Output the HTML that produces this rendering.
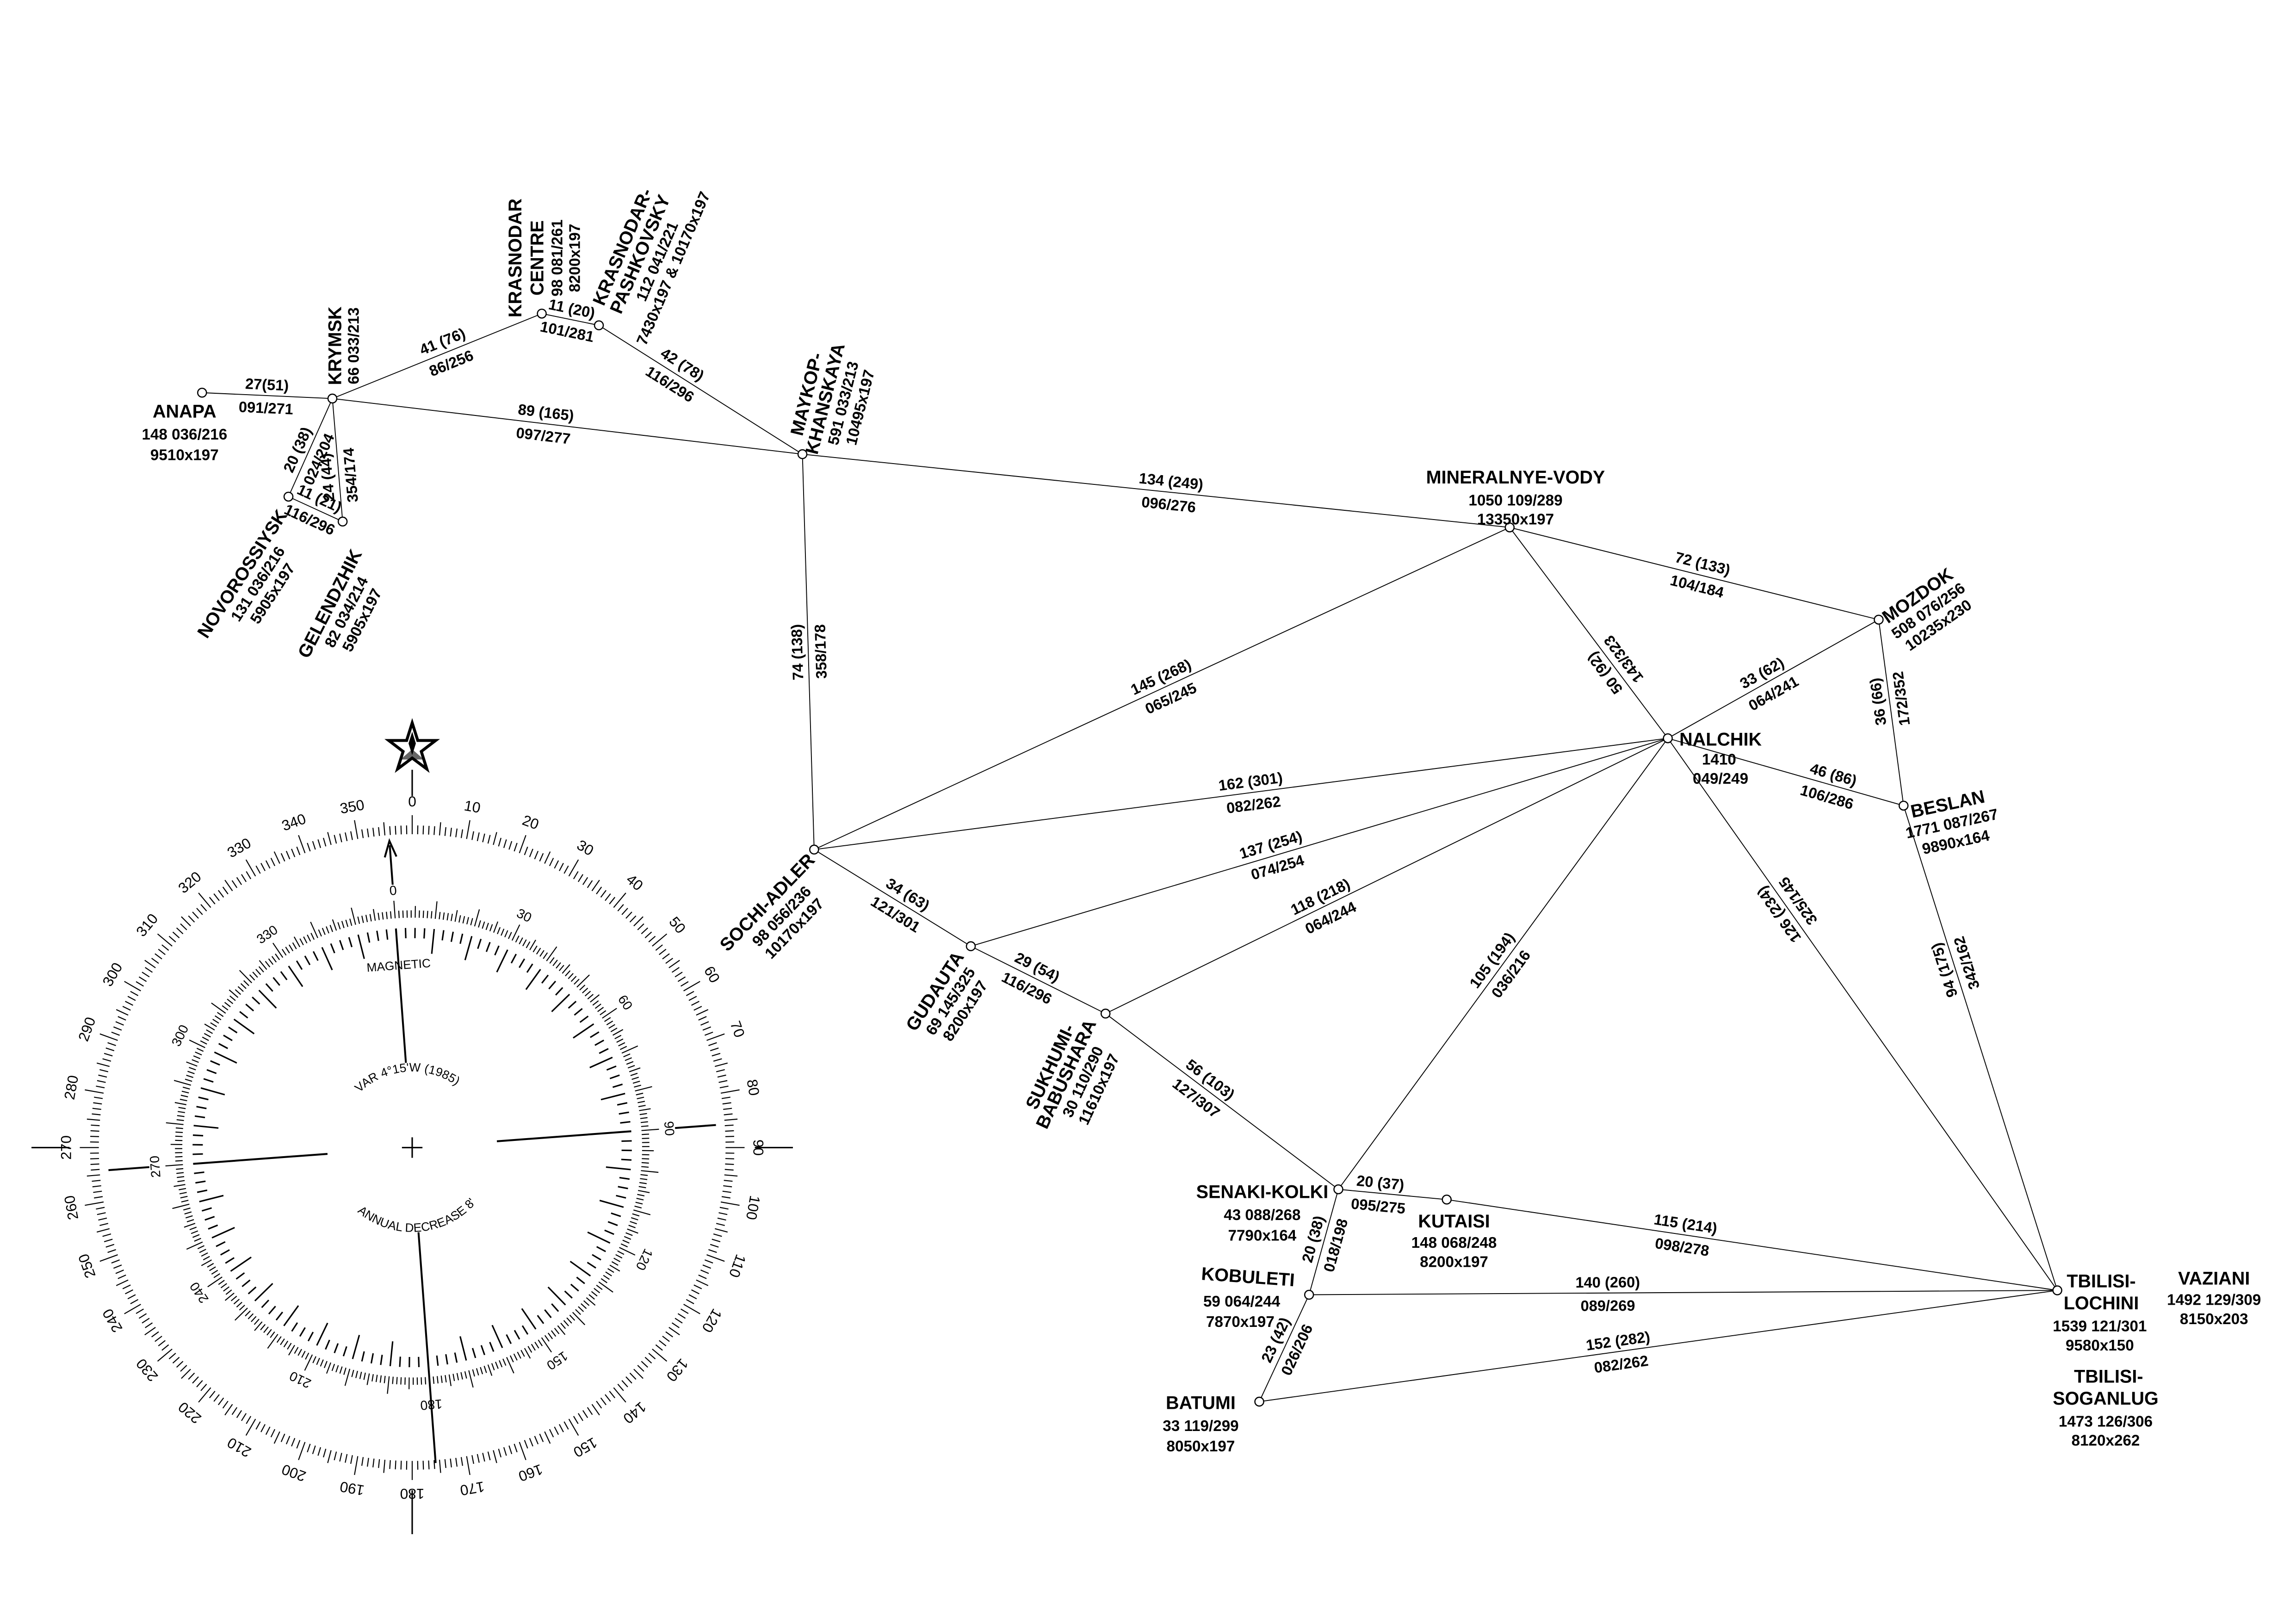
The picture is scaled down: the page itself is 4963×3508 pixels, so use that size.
<!DOCTYPE html>
<html><head><meta charset="utf-8"><style>
html,body{margin:0;padding:0;background:#fff}
svg{display:block}
text{font-family:"Liberation Sans",Arial,sans-serif;fill:#000}
.n{font-size:12.5px;font-weight:bold}
.d{font-size:10.5px;font-weight:bold}
.e{font-size:10.3px;font-weight:bold;text-anchor:middle}
.c{font-size:10px;text-anchor:middle}
.c2{font-size:9px;text-anchor:middle}
.ci{font-size:8.3px;text-anchor:middle}
</style></head><body>
<svg width="4963" height="3508" viewBox="0 0 1568 1108" xmlns="http://www.w3.org/2000/svg">
<rect width="1568" height="1108" fill="#fff"/>
<g stroke="#000" stroke-width="0.6" fill="none">
<line x1="138" y1="268" x2="227" y2="272"/>
<line x1="227" y1="272" x2="370" y2="214"/>
<line x1="370" y1="214" x2="409" y2="222"/>
<line x1="409" y1="222" x2="548" y2="310"/>
<line x1="227" y1="272" x2="548" y2="310"/>
<line x1="227" y1="272" x2="197" y2="339"/>
<line x1="227" y1="272" x2="234" y2="356"/>
<line x1="197" y1="339" x2="234" y2="356"/>
<line x1="548" y1="310" x2="556" y2="580"/>
<line x1="548" y1="310" x2="1031" y2="360"/>
<line x1="1031" y1="360" x2="1283" y2="423"/>
<line x1="1031" y1="360" x2="1139" y2="504"/>
<line x1="1031" y1="360" x2="556" y2="580"/>
<line x1="1283" y1="423" x2="1139" y2="504"/>
<line x1="1283" y1="423" x2="1300" y2="550"/>
<line x1="1139" y1="504" x2="1300" y2="550"/>
<line x1="1139" y1="504" x2="556" y2="580"/>
<line x1="1139" y1="504" x2="663" y2="646"/>
<line x1="1139" y1="504" x2="755" y2="692"/>
<line x1="1139" y1="504" x2="914" y2="812"/>
<line x1="1139" y1="504" x2="1405" y2="881"/>
<line x1="1300" y1="550" x2="1405" y2="881"/>
<line x1="556" y1="580" x2="663" y2="646"/>
<line x1="663" y1="646" x2="755" y2="692"/>
<line x1="755" y1="692" x2="914" y2="812"/>
<line x1="914" y1="812" x2="988" y2="819"/>
<line x1="988" y1="819" x2="1405" y2="881"/>
<line x1="914" y1="812" x2="894" y2="884"/>
<line x1="894" y1="884" x2="1405" y2="881"/>
<line x1="894" y1="884" x2="860" y2="957"/>
<line x1="860" y1="957" x2="1405" y2="881"/>
</g>
<g stroke="#000" stroke-width="0.8" fill="#fff">
<circle cx="138" cy="268" r="3"/><circle cx="227" cy="272" r="3"/><circle cx="197" cy="339" r="3"/><circle cx="234" cy="356" r="3"/>
<circle cx="370" cy="214" r="3"/><circle cx="409" cy="222" r="3"/><circle cx="548" cy="310" r="3"/><circle cx="1031" cy="360" r="3"/>
<circle cx="1283" cy="423" r="3"/><circle cx="1139" cy="504" r="3"/><circle cx="1300" cy="550" r="3"/><circle cx="556" cy="580" r="3"/>
<circle cx="663" cy="646" r="3"/><circle cx="755" cy="692" r="3"/><circle cx="914" cy="812" r="3"/><circle cx="988" cy="819" r="3"/>
<circle cx="894" cy="884" r="3"/><circle cx="860" cy="957" r="3"/><circle cx="1405" cy="881" r="3"/>
</g>

<g transform="translate(182,270) rotate(2.6)"><text class="e" y="-4">27(51)</text><text class="e" y="12">091/271</text></g>
<g transform="translate(305,240) rotate(-22.1)"><text class="e" y="-4">41 (76)</text><text class="e" y="12">86/256</text></g>
<g transform="translate(389,218) rotate(11.6)"><text class="e" y="-4">11 (20)</text><text class="e" y="12">101/281</text></g>
<g transform="translate(462,255) rotate(32.3)"><text class="e" y="-4">42 (78)</text><text class="e" y="12">116/296</text></g>
<g transform="translate(372,289) rotate(6.75)"><text class="e" y="-4">89 (165)</text><text class="e" y="12">097/277</text></g>
<g transform="translate(210,310) rotate(-66)"><text class="e" y="-4">20 (38)</text><text class="e" y="12">024/204</text></g>
<g transform="translate(231,325) rotate(-94.8)"><text class="e" y="-4">24 (44)</text><text class="e" y="12">354/174</text></g>
<g transform="translate(215,347) rotate(24.7)"><text class="e" y="-4">11 (21)</text><text class="e" y="12">116/296</text></g>
<g transform="translate(552,445) rotate(-91.7)"><text class="e" y="-4">74 (138)</text><text class="e" y="12">358/178</text></g>
<g transform="translate(799,336) rotate(5.9)"><text class="e" y="-4">134 (249)</text><text class="e" y="12">096/276</text></g>
<g transform="translate(1161,392) rotate(14)"><text class="e" y="-4">72 (133)</text><text class="e" y="12">104/184</text></g>
<g transform="translate(1102,455) rotate(-126.9)"><text class="e" y="-4">50 (92)</text><text class="e" y="12">143/323</text></g>
<g transform="translate(796,469) rotate(-24.9)"><text class="e" y="-4">145 (268)</text><text class="e" y="12">065/245</text></g>
<g transform="translate(1207,466) rotate(-29.4)"><text class="e" y="-4">33 (62)</text><text class="e" y="12">064/241</text></g>
<g transform="translate(1290,478) rotate(-97.6)"><text class="e" y="-4">36 (66)</text><text class="e" y="12">172/352</text></g>
<g transform="translate(1250,536) rotate(16)"><text class="e" y="-4">46 (86)</text><text class="e" y="12">106/286</text></g>
<g transform="translate(855,541) rotate(-7.4)"><text class="e" y="-4">162 (301)</text><text class="e" y="12">082/262</text></g>
<g transform="translate(870,584) rotate(-16.6)"><text class="e" y="-4">137 (254)</text><text class="e" y="12">074/254</text></g>
<g transform="translate(905,619) rotate(-26.1)"><text class="e" y="-4">118 (218)</text><text class="e" y="12">064/244</text></g>
<g transform="translate(1025,660) rotate(-53.9)"><text class="e" y="-4">105 (194)</text><text class="e" y="12">036/216</text></g>
<g transform="translate(1221,620) rotate(-125.2)"><text class="e" y="-4">126 (234)</text><text class="e" y="12">325/145</text></g>
<g transform="translate(1335,660) rotate(-107.6)"><text class="e" y="-4">94 (175)</text><text class="e" y="12">342/162</text></g>
<g transform="translate(616,617) rotate(31.7)"><text class="e" y="-4">34 (63)</text><text class="e" y="12">121/301</text></g>
<g transform="translate(705,667) rotate(26.6)"><text class="e" y="-4">29 (54)</text><text class="e" y="12">116/296</text></g>
<g transform="translate(822,743) rotate(37)"><text class="e" y="-4">56 (103)</text><text class="e" y="12">127/307</text></g>
<g transform="translate(942,815) rotate(5.4)"><text class="e" y="-4">20 (37)</text><text class="e" y="12">095/275</text></g>
<g transform="translate(1150,843) rotate(8.5)"><text class="e" y="-4">115 (214)</text><text class="e" y="12">098/278</text></g>
<g transform="translate(904,848) rotate(-74.5)"><text class="e" y="-4">20 (38)</text><text class="e" y="12">018/198</text></g>
<g transform="translate(1098,883) rotate(-0.3)"><text class="e" y="-4">140 (260)</text><text class="e" y="12">089/269</text></g>
<g transform="translate(878,918) rotate(-65)"><text class="e" y="-4">23 (42)</text><text class="e" y="12">026/206</text></g>
<g transform="translate(1106,923) rotate(-7.9)"><text class="e" y="-4">152 (282)</text><text class="e" y="12">082/262</text></g>

<g text-anchor="middle">
<text class="n" x="126" y="285">ANAPA</text><text class="d" x="126" y="300">148 036/216</text><text class="d" x="126" y="314">9510x197</text>
<g transform="translate(233,236) rotate(-90)"><text class="n">KRYMSK</text><text class="d" y="12">66 033/213</text></g>
<g transform="translate(356,176) rotate(-90)"><text class="n">KRASNODAR</text><text class="n" y="15">CENTRE</text><text class="d" y="28">98 081/261</text><text class="d" y="40">8200x197</text></g>
<g transform="translate(429,170) rotate(-67)"><text class="n">KRASNODAR-</text><text class="n" y="13">PASHKOVSKY</text><text class="d" y="25">112 041/221</text><text class="d" y="37">7430x197 &amp; 10170x197</text></g>
<g transform="translate(555,270) rotate(-76)"><text class="n">MAYKOP-</text><text class="n" y="13">KHANSKAYA</text><text class="d" y="25">591 033/213</text><text class="d" y="37">10495x197</text></g>
<g transform="translate(169,394) rotate(-57)"><text class="n">NOVOROSSIYSK</text><text class="d" y="12">131 036/216</text><text class="d" y="24">5905x197</text></g>
<g transform="translate(229,414) rotate(-63)"><text class="n">GELENDZHIK</text><text class="d" y="12">82 034/214</text><text class="d" y="24">5905x197</text></g>
<text class="n" x="1035" y="330">MINERALNYE-VODY</text><text class="d" x="1035" y="345">1050 109/289</text><text class="d" x="1035" y="358">13350x197</text>
<g transform="translate(1312,410) rotate(-35)"><text class="n">MOZDOK</text><text class="d" y="12">508 076/256</text><text class="d" y="24">10235x230</text></g>
<text class="n" x="1175" y="509">NALCHIK</text><text class="d" x="1174" y="522">1410</text><text class="d" x="1175" y="535">049/249</text>
<g transform="translate(1331,553) rotate(-12)"><text class="n">BESLAN</text><text class="d" y="13">1771 087/267</text><text class="d" y="26">9890x164</text></g>
<g transform="translate(527,619) rotate(-46)"><text class="n">SOCHI-ADLER</text><text class="d" y="13">98 056/236</text><text class="d" y="25">10170x197</text></g>
<g transform="translate(642,679) rotate(-57)"><text class="n">GUDAUTA</text><text class="d" y="12">69 145/325</text><text class="d" y="24">8200x197</text></g>
<g transform="translate(721,730) rotate(-65)"><text class="n">SUKHUMI-</text><text class="n" y="12">BABUSHARA</text><text class="d" y="24">30 110/290</text><text class="d" y="36">11610x197</text></g>
<text class="n" x="862" y="818">SENAKI-KOLKI</text><text class="d" x="862" y="833">43 088/268</text><text class="d" x="862" y="847">7790x164</text>
<text class="n" x="993" y="838">KUTAISI</text><text class="d" x="993" y="852">148 068/248</text><text class="d" x="993" y="865">8200x197</text>
<text class="n" x="852" y="876" transform="rotate(4 852 876)">KOBULETI</text><text class="d" x="848" y="892">59 064/244</text><text class="d" x="847" y="906">7870x197</text>
<text class="n" x="820" y="962">BATUMI</text><text class="d" x="820" y="977">33 119/299</text><text class="d" x="820" y="991">8050x197</text>
<text class="n" x="1435" y="879">TBILISI-</text><text class="n" x="1435" y="894">LOCHINI</text><text class="d" x="1434" y="909">1539 121/301</text><text class="d" x="1434" y="922">9580x150</text>
<text class="n" x="1512" y="877">VAZIANI</text><text class="d" x="1512" y="891">1492 129/309</text><text class="d" x="1512" y="904">8150x203</text>
<text class="n" x="1440" y="944">TBILISI-</text><text class="n" x="1438" y="959">SOGANLUG</text><text class="d" x="1438" y="974">1473 126/306</text><text class="d" x="1438" y="987">8120x262</text>
</g>

<g transform="translate(281.5,783.5)">
<g stroke="#000" stroke-width="1">
<line x1="-260" y1="0" x2="-234" y2="0"/><line x1="234" y1="0" x2="260" y2="0"/>
<line x1="0" y1="234" x2="0" y2="264"/><line x1="0" y1="-258" x2="0" y2="-240"/>
<line x1="-7" y1="0" x2="7" y2="0"/><line x1="0" y1="-7" x2="0" y2="7"/>
</g>
<polygon points="0,-290 3.8,-278 16,-278 6.2,-270.5 10,-258.5 0,-266 -10,-258.5 -6.2,-270.5 -16,-278 -3.8,-278" fill="#fff" stroke="#000" stroke-width="2"/>
<polygon points="0,-284 2.5,-276 0,-268 -2.5,-276" fill="#000"/>
<polygon points="0,-272 8,-265 -8,-265" fill="#000" opacity="0.6"/>
<g id="ot" stroke="#000" stroke-width="0.7"></g>
<g class="c">
<text transform="rotate(0) translate(0,-233)">0</text><text transform="rotate(10) translate(0,-233)">10</text><text transform="rotate(20) translate(0,-233)">20</text><text transform="rotate(30) translate(0,-233)">30</text><text transform="rotate(40) translate(0,-233)">40</text><text transform="rotate(50) translate(0,-233)">50</text><text transform="rotate(60) translate(0,-233)">60</text><text transform="rotate(70) translate(0,-233)">70</text><text transform="rotate(80) translate(0,-233)">80</text><text transform="rotate(90) translate(0,-233)">90</text><text transform="rotate(100) translate(0,-233)">100</text><text transform="rotate(110) translate(0,-233)">110</text><text transform="rotate(120) translate(0,-233)">120</text><text transform="rotate(130) translate(0,-233)">130</text><text transform="rotate(140) translate(0,-233)">140</text><text transform="rotate(150) translate(0,-233)">150</text><text transform="rotate(160) translate(0,-233)">160</text><text transform="rotate(170) translate(0,-233)">170</text><text transform="rotate(180) translate(0,-233)">180</text><text transform="rotate(190) translate(0,-233)">190</text><text transform="rotate(200) translate(0,-233)">200</text><text transform="rotate(210) translate(0,-233)">210</text><text transform="rotate(220) translate(0,-233)">220</text><text transform="rotate(230) translate(0,-233)">230</text><text transform="rotate(240) translate(0,-233)">240</text><text transform="rotate(250) translate(0,-233)">250</text><text transform="rotate(260) translate(0,-233)">260</text><text transform="rotate(270) translate(0,-233)">270</text><text transform="rotate(280) translate(0,-233)">280</text><text transform="rotate(290) translate(0,-233)">290</text><text transform="rotate(300) translate(0,-233)">300</text><text transform="rotate(310) translate(0,-233)">310</text><text transform="rotate(320) translate(0,-233)">320</text><text transform="rotate(330) translate(0,-233)">330</text><text transform="rotate(340) translate(0,-233)">340</text><text transform="rotate(350) translate(0,-233)">350</text>
</g>
<g transform="rotate(-4.25)">
<g id="ia" stroke="#000" stroke-width="0.7"></g>
<g id="ib" stroke="#000" stroke-width="1"></g>
<g stroke="#000" stroke-width="1.3">
<line x1="0" y1="-58" x2="0" y2="-150"/><line x1="0" y1="58" x2="0" y2="216"/>
<line x1="58" y1="0" x2="150" y2="0"/><line x1="-58" y1="0" x2="-150" y2="0"/>
<line x1="180" y1="0" x2="208" y2="0"/><line x1="0" y1="-180" x2="0" y2="-207"/>
<line x1="-180" y1="0" x2="-208" y2="0"/>
</g>
<path d="M-4,-199 L0,-210 L4,-199" fill="none" stroke="#000" stroke-width="1.3"/>
<g class="c2">
<text transform="rotate(0) translate(0,-173)">0</text><text transform="rotate(30) translate(0,-173)">30</text><text transform="rotate(60) translate(0,-173)">60</text><text transform="rotate(90) translate(0,-173)">90</text><text transform="rotate(120) translate(0,-173)">120</text><text transform="rotate(150) translate(0,-173)">150</text><text transform="rotate(180) translate(0,-173)">180</text><text transform="rotate(210) translate(0,-173)">210</text><text transform="rotate(240) translate(0,-173)">240</text><text transform="rotate(270) translate(0,-173)">270</text><text transform="rotate(300) translate(0,-173)">300</text><text transform="rotate(330) translate(0,-173)">330</text>
</g>
<text class="ci" x="0" y="-122">MAGNETIC</text>
<path id="ta" d="M-45,-26 A52,52 0 0 1 45,-26" fill="none"/>
<path id="tb" d="M-50,29 A58,58 0 0 0 50,29" fill="none"/>
<text class="ci"><textPath href="#ta" startOffset="50%">VAR 4°15'W (1985)</textPath></text>
<text class="ci"><textPath href="#tb" startOffset="50%">ANNUAL DECREASE 8'</textPath></text>
</g>
</g>
</svg>
<script>
(function(){
var NS="http://www.w3.org/2000/svg";
function L(g,a,r1,r2){var t=a*Math.PI/180,s=Math.sin(t),c=Math.cos(t),l=document.createElementNS(NS,"line");
l.setAttribute("x1",(r1*s).toFixed(2));l.setAttribute("y1",(-r1*c).toFixed(2));
l.setAttribute("x2",(r2*s).toFixed(2));l.setAttribute("y2",(-r2*c).toFixed(2));g.appendChild(l);}
var ot=document.getElementById("ot"),ia=document.getElementById("ia"),ib=document.getElementById("ib");
for(var i=0;i<360;i++){
 var lo=i%10==0?13:(i%5==0?9:6);L(ot,i,214,214+lo);
 var li=i%10==0?12:(i%5==0?8:5);L(ia,i,157,157+li);
}
for(var j=0;j<360;j+=2.5){ if(j%10==0)L(ib,j,133,150); else L(ib,j,143,150); }
})();
</script>
</body></html>
